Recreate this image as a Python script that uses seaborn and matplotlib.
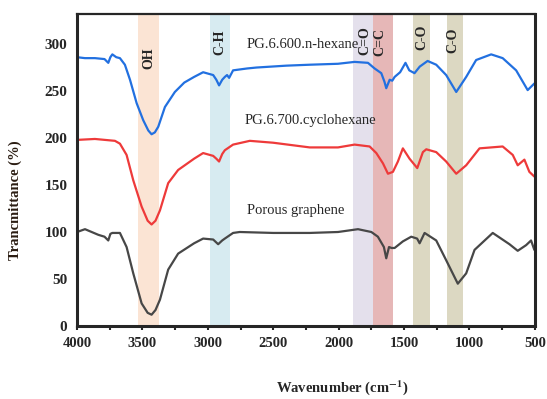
import numpy as np
import pandas as pd
import matplotlib
matplotlib.use('Agg')
import matplotlib.pyplot as plt
import seaborn as sns
#
# Spectra (wavenumber in cm-1, transmittance in %)
hexane_wn = [4000, 3940, 3863, 3790, 3761, 3745, 3730, 3700, 3672, 3634, 3595, 3544, 3494, 3455, 3430, 3405,
             3379, 3328, 3252, 3180, 3105, 3036, 2959, 2935, 2914, 2890, 2870, 2853, 2837, 2807, 2700, 2628,
             2400, 2221, 2005, 1878, 1776, 1725, 1674, 1650, 1636, 1610, 1590, 1572, 1530, 1489, 1460, 1420,
             1380, 1320, 1254, 1178, 1101, 1025, 949, 834, 746, 643, 555, 504]
hexane_t = [286, 285, 285, 284, 280, 286, 289, 286, 285, 278, 262, 237, 219, 208, 204, 206,
            212, 233, 249, 259, 265, 270, 267, 262, 256, 262, 265, 267, 264, 272, 274, 275,
            277, 278, 279, 281, 280, 274, 269, 260, 253, 262, 261, 265, 270, 280, 272, 269,
            276, 282, 278, 267, 249, 265, 283, 289, 285, 272, 251, 258]

cyclo_wn = [4000, 3863, 3710, 3672, 3621, 3570, 3506, 3460, 3430, 3400, 3366, 3303, 3227, 3105, 3036, 2959,
            2935, 2914, 2890, 2870, 2807, 2679, 2501, 2221, 2005, 1878, 1763, 1712, 1661, 1623, 1585, 1547,
            1509, 1458, 1399, 1356, 1330, 1254, 1178, 1101, 1025, 923, 746, 669, 631, 580, 542, 504]
cyclo_t = [198, 199, 197, 194, 182, 155, 127, 112, 108, 112, 123, 152, 166, 178, 184, 181,
           178, 175, 183, 187, 193, 197, 195, 190, 190, 193, 191, 184, 173, 162, 164, 175,
           189, 178, 168, 185, 188, 185, 175, 162, 171, 189, 191, 182, 171, 177, 164, 159]

porous_wn = [4000, 3939, 3837, 3790, 3761, 3745, 3730, 3700, 3672, 3621, 3570, 3506, 3460, 3430, 3400, 3366,
             3303, 3227, 3105, 3036, 2959, 2921, 2890, 2870, 2807, 2756, 2500, 2221, 2005, 1852, 1750, 1700,
             1654, 1636, 1615, 1595, 1572, 1509, 1445, 1400, 1381, 1343, 1254, 1178, 1089, 1025, 961, 822,
             694, 631, 567, 529, 504]
porous_t = [100, 103, 97, 95, 91, 98, 99, 99, 99, 84, 56, 24, 14, 12, 17, 28,
            60, 77, 88, 93, 92, 87, 91, 93, 99, 100, 99, 99, 100, 103, 100, 95,
            84, 72, 84, 83, 83, 90, 95, 93, 88, 99, 91, 70, 45, 56, 81, 99,
            87, 80, 86, 91, 81]

sample_names = ['PG.6.600.n-hexane', 'PG.6.700.cyclohexane', 'Porous graphene']
line_colors = ['#2270e0', '#ee3a3a', '#474747']

# Absorption bands: (label, high wavenumber, low wavenumber, colour)
band_labels = ['OH', 'C-H', 'C=O', 'C=C', 'C-O', 'C-O']
band_hi = [3530, 2980, 1893, 1740, 1435, 1168]
band_lo = [3375, 2832, 1740, 1588, 1298, 1053]
band_colors = ['#fbe4d4', '#d7ebf1', '#e4e0ec', '#e6b7b7', '#dcd8c2', '#dcd8c2']
#
# Long-format table for seaborn
spectra = pd.concat([
    pd.DataFrame({'wavenumber': wn, 'transmittance': t, 'sample': name})
    for wn, t, name in zip([hexane_wn, cyclo_wn, porous_wn], [hexane_t, cyclo_t, porous_t], sample_names)
])
#
sns.set_style('ticks')
plt.rcParams['font.family'] = ['Liberation Serif', 'DejaVu Serif']
plt.rcParams['mathtext.fontset'] = 'stix'

fig = plt.figure(figsize=(5.47, 3.99), dpi=100)
ax = fig.add_axes([0.1408, 0.183, 0.837, 0.782])

# Shaded bands behind the spectra
for lbl, hi, lo, col in zip(band_labels, band_hi, band_lo, band_colors):
    ax.axvspan(lo, hi, color=col, lw=0, zorder=0)

sns.lineplot(data=spectra, x='wavenumber', y='transmittance', hue='sample', hue_order=sample_names,
             palette=line_colors, estimator=None, sort=True, linewidth=1.6, legend=False, ax=ax)

ax.set_xlim(4000, 500)
ax.set_ylim(0, 332)
ax.set_xticks(np.arange(4000, 499, -500))
ax.set_xticks(np.arange(3750, 500, -500), minor=True)
ax.set_yticks(np.arange(0, 301, 50))
ax.tick_params(axis='x', which='both', direction='out', length=3, width=1.5, pad=5, labelsize=10.5)
ax.tick_params(axis='y', length=0, pad=7, labelsize=11)
for lab in ax.get_xticklabels() + ax.get_yticklabels():
    lab.set_fontweight('bold')
for side in ['left', 'bottom', 'right']:
    ax.spines[side].set_linewidth(2.2)
ax.spines['top'].set_linewidth(1.6)
ax.set_xlabel('')
ax.set_ylabel('')

# Band labels, written vertically
band_text_x = [3450, 2905, 1801, 1687, 1366, 1130]
band_text_y = [285, 302, 304, 302, 307, 304]
for lbl, tx, ty in zip(band_labels, band_text_x, band_text_y):
    ax.text(tx, ty, lbl, rotation=90, ha='center', va='center', fontsize=10, fontweight='bold')

# Sample names above each spectrum
name_x = [2702, 2717, 2702]
name_y = [300, 219, 123]
for name, tx, ty in zip(sample_names, name_x, name_y):
    ax.text(tx, ty, name, ha='left', va='center', fontsize=10.5)

fig.text(342 / 547, 1 - 388 / 399, r'Wavenumber (cm$^{\mathbf{-1}}$)', ha='center', va='center',
         fontsize=10.5, fontweight='bold')
fig.text(15 / 547, 1 - 200 / 399, 'Trancmittance (%)', rotation=90, ha='center', va='center',
         fontsize=10.5, fontweight='bold', color='#2a1c12')

fig.savefig('out.png', dpi=100)
